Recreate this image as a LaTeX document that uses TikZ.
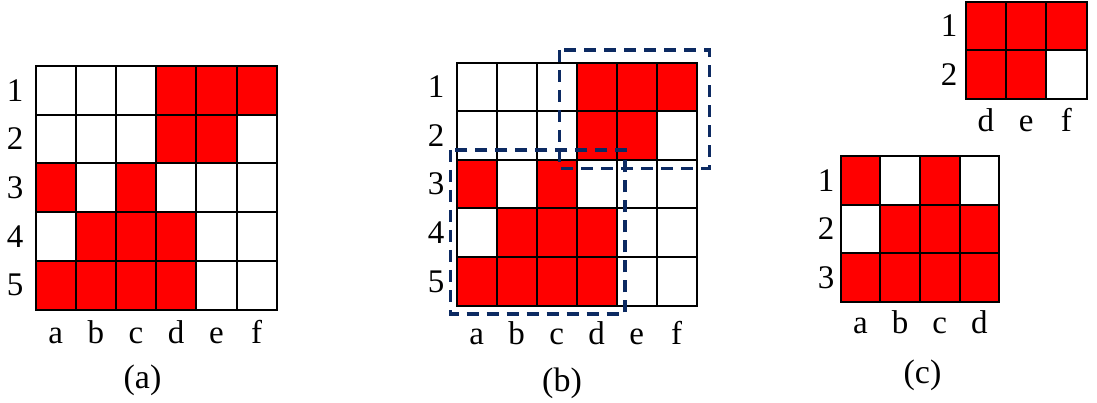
\documentclass[tikz,border=0pt]{standalone}
\usepackage{fontspec}
\setmainfont{Liberation Serif}
\definecolor{navy}{HTML}{0C2A62}
\tikzset{
  cell/.style={draw=black, line width=2pt},
  lab/.style={font=\fontsize{33}{35}\selectfont, inner sep=0pt},
  captxt/.style={font=\fontsize{34}{36}\selectfont, inner sep=0pt},
  selbox/.style={draw=navy, line width=3.3pt, dash pattern=on 12pt off 8pt},
}
% #1 x0, #2 y0, #3 cell width, #4 cell height, #5 rows
\newcommand\cellgrid[5]{%
  \foreach \rw [count=\r from 0] in {#5}{%
    \foreach \v [count=\c from 0] in \rw {%
      \ifnum\v=1 \def\cc{red}\else\def\cc{white}\fi
      \path[cell, fill=\cc] ({#1+\c*#3},{#2+\r*#4}) rectangle ++(#3,#4);
    }%
  }%
}
\begin{document}
\begin{tikzpicture}[x=1pt,y=-1pt]
\useasboundingbox (0,0) rectangle (1097,403);

% ---------- (a) ----------
\cellgrid{35.5}{66}{40.2}{48.7}{{0,0,0,1,1,1},{0,0,0,1,1,0},{1,0,1,0,0,0},{0,1,1,1,0,0},{1,1,1,1,0,0}}
\foreach \t [count=\i from 0] in {1,2,3,4,5}
  \node[lab] (a-r\t) at (15,{66+24.35+\i*48.7}) {\t};
\foreach \t [count=\i from 0] in {a,b,c,d,e,f}
  \node[lab, anchor=base] (a-c\t) at ({35.5+20.1+\i*40.2},343) {\t};
\node[captxt, anchor=base] (capa) at (142.5,388) {(a)};

% ---------- (b) ----------
\cellgrid{456.7}{62.7}{40}{48.6}{{0,0,0,1,1,1},{0,0,0,1,1,0},{1,0,1,0,0,0},{0,1,1,1,0,0},{1,1,1,1,0,0}}
\foreach \t [count=\i from 0] in {1,2,3,4,5}
  \node[lab] (b-r\t) at (436,{62.7+24.3+\i*48.6}) {\t};
\foreach \t [count=\i from 0] in {a,b,c,d,e,f}
  \node[lab, anchor=base] (b-c\t) at ({456.7+20+\i*40},344) {\t};
\node[captxt, anchor=base] (capb) at (562,391) {(b)};
\draw[selbox] (559.3,50) rectangle (709.3,168.3);
\draw[selbox] (450.7,150) rectangle (625,314);

% ---------- (c) top ----------
\cellgrid{965.7}{1.7}{40.3}{48.8}{{1,1,1},{1,1,0}}
\foreach \t [count=\i from 0] in {1,2}
  \node[lab] (ct-r\t) at (949,{1.7+24.4+\i*48.8}) {\t};
\foreach \t [count=\i from 0] in {d,e,f}
  \node[lab, anchor=base] (ct-c\t) at ({965.7+20.15+\i*40.3},131.7) {\t};

% ---------- (c) bottom ----------
\cellgrid{840.7}{156}{39.65}{48.6}{{1,0,1,0},{0,1,1,1},{1,1,1,1}}
\foreach \t [count=\i from 0] in {1,2,3}
  \node[lab] (cb-r\t) at (826,{156+24.3+\i*48.6}) {\t};
\foreach \t [count=\i from 0] in {a,b,c,d}
  \node[lab, anchor=base] (cb-c\t) at ({840.7+19.8+\i*39.65},333) {\t};
\node[captxt, anchor=base] (capc) at (922.5,383) {(c)};
\end{tikzpicture}
\end{document}
